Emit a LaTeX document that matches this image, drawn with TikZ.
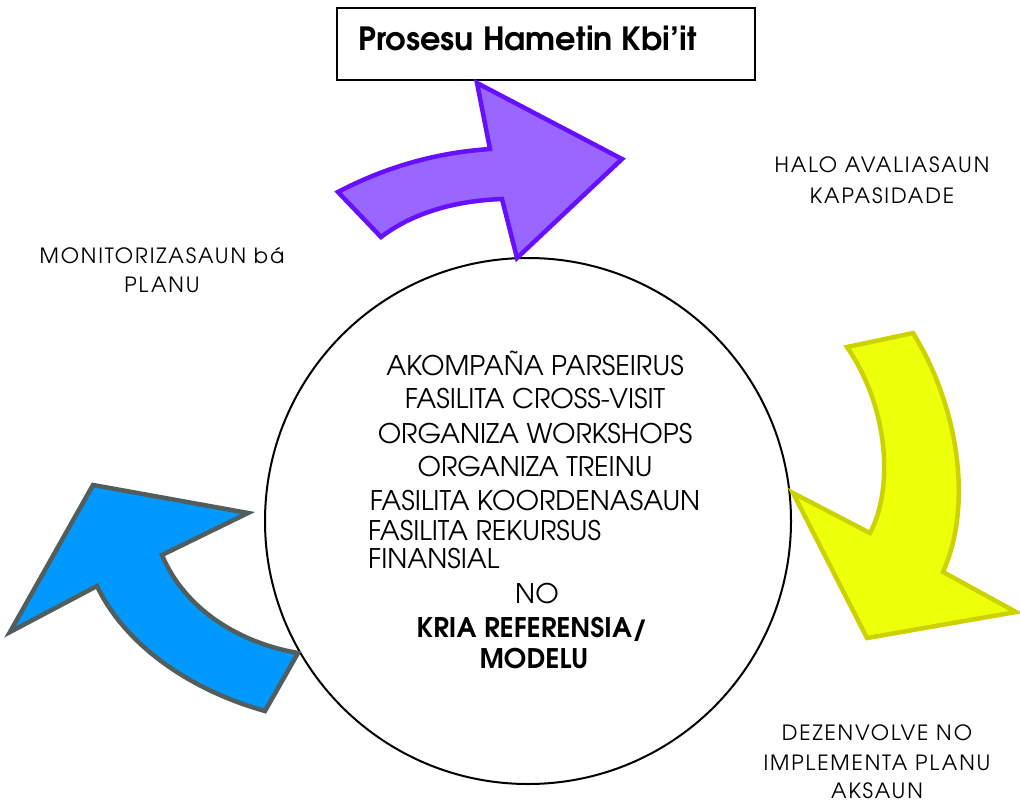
\documentclass[tikz,border=0pt]{standalone}
\usepackage{fontspec}
\setmainfont{TeX Gyre Adventor}
\newfontfamily\widefont[LetterSpace=9]{TeX Gyre Adventor}
\definecolor{pfill}{RGB}{153,102,255}
\definecolor{pline}{RGB}{102,16,255}
\definecolor{yfill}{RGB}{238,255,10}
\definecolor{yline}{RGB}{204,210,0}
\definecolor{bfill}{RGB}{0,153,255}
\definecolor{bline}{RGB}{82,94,94}
\tikzset{
  arrowshape/.style={line width=4.5pt, line join=miter},
  midtxt/.style={inner sep=0pt, anchor=base, font=\fontsize{27}{33}\selectfont},
  midleft/.style={midtxt, anchor=base west},
  midbold/.style={midtxt, font=\fontsize{27}{33}\selectfont\bfseries},
  outtxt/.style={inner sep=0pt, anchor=base, font=\widefont\fontsize{21}{29}\selectfont},
}
\begin{document}
\begin{tikzpicture}[x=1pt,y=-1pt]
\useasboundingbox (0,0) rectangle (1020,803);
% circle
\node[draw, line width=2pt, circle, minimum size=526pt, inner sep=0pt] (circ) at (528,521) {};
% title box
\node[draw, line width=2pt, minimum width=418pt, minimum height=72pt, inner sep=0pt] (box) at (546,44) {};
\node[inner sep=0pt, anchor=base west, font=\fontsize{32}{36}\selectfont\bfseries] (title) at (358,50) {Prosesu Hametin Kbi’it};
% purple arrow
\draw[arrowshape, draw=pline, fill=pfill] (338,192) -- (381,237)
  .. controls (410,215) and (450,201) .. (502,199)
  -- (517,258) -- (622,159) -- (477,83) -- (490,149)
  .. controls (430,153) and (380,170) .. cycle;
% yellow arrow
\draw[arrowshape, draw=yline, fill=yfill] (847,347) -- (913,333)
  .. controls (955,400) and (975,500) .. (943,572)
  -- (1016,612) -- (867,638) -- (793,493) -- (870,533)
  .. controls (893,490) and (890,410) .. cycle;
% blue arrow
\draw[arrowshape, draw=bline, fill=bfill] (298,653) -- (265,711)
  .. controls (190,690) and (125,645) .. (97,586)
  -- (10,632) -- (93,485) -- (248,513) -- (162,555)
  .. controls (185,610) and (240,643) .. cycle;
% centre text
\node[midtxt] (l1) at (535,375) {AKOMPAÑA PARSEIRUS};
\node[midtxt] (l2) at (535,408) {FASILITA CROSS-VISIT};
\node[midtxt] (l3) at (535,443) {ORGANIZA WORKSHOPS};
\node[midtxt] (l4) at (535,476) {ORGANIZA TREINU};
\node[midtxt] (l5) at (535,510) {FASILITA KOORDENASAUN};
\node[midleft] (l6) at (368,540) {FASILITA REKURSUS};
\node[midleft] (l7) at (368,568) {FINANSIAL};
\node[midtxt] (l8) at (537,603) {NO};
\node[midbold] (l9) at (532,637) {KRIA REFERENSIA/};
\node[midbold] (l10) at (534,668) {MODELU};
% outer labels
\node[outtxt] (h1) at (882,172) {HALO AVALIASAUN};
\node[outtxt] (h2) at (882,203) {KAPASIDADE};
\node[outtxt] (m1) at (162,263) {MONITORIZASAUN bá};
\node[outtxt] (m2) at (162,292) {PLANU};
\node[outtxt] (d1) at (877,740) {DEZENVOLVE NO};
\node[outtxt] (d2) at (877,770) {IMPLEMENTA PLANU};
\node[outtxt] (d3) at (877,798) {AKSAUN};
\end{tikzpicture}
\end{document}
